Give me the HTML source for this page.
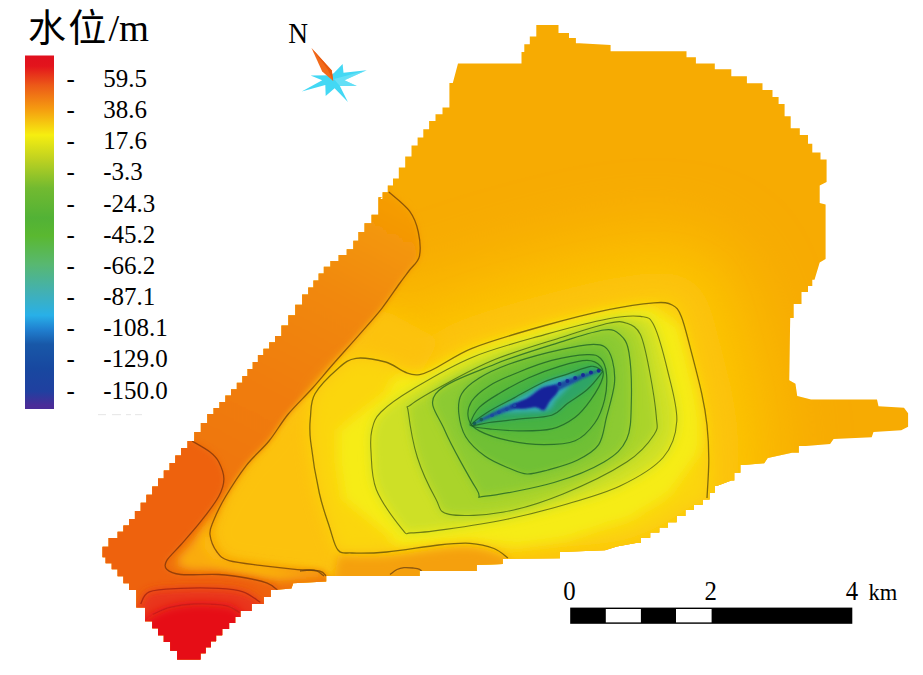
<!DOCTYPE html>
<html lang="zh"><head><meta charset="utf-8"><title>水位</title>
<style>html,body{margin:0;padding:0;background:#fff;}body{width:923px;height:675px;position:relative;overflow:hidden;}</style>
</head><body>
<svg width="923" height="675" viewBox="0 0 923 675" style="position:absolute;left:0;top:0">
<defs>
<clipPath id="clip"><path d="M380.0,199.0 L382.6,199.0 L382.6,192.2 L387.8,192.2 L387.8,185.4 L393.0,185.4 L393.0,178.6 L395.6,178.6 L398.8,178.6 L398.8,167.6 L405.2,167.6 L405.2,156.6 L411.5,156.6 L411.5,145.6 L414.7,145.6 L417.6,145.6 L417.6,137.4 L423.3,137.4 L423.3,129.2 L429.1,129.2 L429.1,121.0 L432.0,121.0 L435.5,121.0 L435.5,114.2 L442.5,114.2 L442.5,107.5 L446.0,107.5 L449.4,107.5 L449.4,83.0 L452.8,83.0 L458.0,63.5 L521.5,63.5 L521.5,52.0 L524.3,52.0 L524.3,44.2 L529.8,44.2 L529.8,36.4 L532.6,36.4 L536.3,36.4 L536.3,25.0 L540.0,25.0 L551.6,25.0 L558.5,25.0 L558.5,33.0 L565.5,33.0 L569.0,33.0 L569.0,38.1 L575.9,38.1 L575.9,43.3 L579.4,43.3 L610.6,45.0 L610.6,51.3 L686.5,51.3 L686.5,57.2 L695.9,57.2 L695.9,63.5 L705.3,63.5 L714.8,63.5 L714.8,69.3 L724.4,69.3 L731.3,69.3 L731.3,76.3 L738.2,76.3 L746.9,76.3 L746.9,83.2 L755.6,83.2 L762.5,83.2 L762.5,90.0 L769.4,90.0 L772.5,90.0 L772.5,97.0 L778.6,97.0 L778.6,104.0 L781.6,104.0 L784.6,104.0 L784.6,116.2 L790.7,116.2 L790.7,128.3 L793.7,128.3 L799.8,128.3 L799.8,135.0 L805.8,135.0 L808.0,135.0 L808.0,143.8 L812.3,143.8 L812.3,152.5 L814.5,152.5 L820.5,152.5 L820.5,159.5 L826.6,159.5 L826.6,182.0 L819.7,185.5 L819.7,203.0 L825.6,204.5 L825.6,259.0 L819.7,262.4 L814.5,279.8 L812.3,279.8 L812.3,285.9 L808.0,285.9 L808.0,291.9 L805.8,291.9 L801.5,291.9 L801.5,304.0 L797.2,304.0 L793.7,304.0 L793.7,317.9 L790.2,317.9 L789.2,380.3 L795.4,383.8 L797.2,395.9 L811.0,399.4 L877.0,399.6 L878.5,406.2 L904.0,407.8 L908.1,413.2 L908.1,426.8 L901.2,430.3 L873.5,432.0 L871.7,437.2 L833.6,439.0 L830.1,444.1 L805.8,445.9 L798.9,445.9 L798.9,452.8 L792.0,452.8 L767.7,458.0 L764.2,463.2 L743.4,465.0 L740.4,465.0 L740.4,472.8 L734.3,472.8 L734.3,480.6 L731.3,480.6 L717.4,485.8 L714.8,485.8 L714.8,492.7 L709.6,492.7 L709.6,499.6 L707.0,499.6 L702.7,499.6 L702.7,504.8 L694.0,504.8 L694.0,510.0 L689.7,510.0 L685.4,510.0 L685.4,516.1 L676.6,516.1 L676.6,522.2 L672.3,522.2 L668.0,522.2 L668.0,527.4 L659.3,527.4 L659.3,532.6 L655.0,532.6 L650.2,532.6 L650.2,537.8 L640.8,537.8 L640.8,543.0 L636.0,543.0 L616.9,546.4 L605.0,550.2 L560.0,552.0 L560.0,558.2 L502.8,558.9 L502.8,564.1 L476.8,565.1 L476.8,571.0 L419.6,571.0 L419.6,576.0 L326.2,576.0 L326.2,581.4 L293.2,583.2 L291.5,588.4 L274.2,590.1 L270.7,590.1 L270.7,597.0 L263.8,597.0 L263.8,604.0 L260.3,604.0 L251.7,604.0 L251.7,610.9 L243.0,610.9 L240.4,610.9 L240.4,617.0 L235.2,617.0 L235.2,623.0 L232.6,623.0 L229.1,623.0 L229.1,629.1 L222.2,629.1 L222.2,635.2 L218.7,635.2 L216.1,635.2 L216.1,641.2 L210.9,641.2 L210.9,647.3 L205.7,647.3 L205.7,653.3 L200.5,653.3 L200.5,659.4 L197.9,659.4 L180.6,659.4 L177.1,659.4 L177.1,650.8 L170.2,650.8 L170.2,642.1 L166.7,642.1 L163.8,642.1 L163.8,635.2 L158.0,635.2 L158.0,628.2 L152.2,628.2 L152.2,621.3 L149.3,621.3 L145.0,621.3 L145.0,607.4 L140.7,607.4 L136.3,607.4 L136.3,590.1 L132.0,590.1 L129.1,590.1 L129.1,583.2 L123.4,583.2 L123.4,576.2 L117.6,576.2 L117.6,569.3 L114.7,569.3 L111.7,569.3 L111.7,563.2 L105.6,563.2 L105.6,557.2 L102.5,557.2 L102.5,546.8 L108.6,546.8 L108.6,538.1 L114.7,538.1 L117.6,538.1 L117.6,531.7 L123.4,531.7 L123.4,525.4 L129.1,525.4 L129.1,519.0 L132.0,519.0 L134.9,519.0 L134.9,510.9 L140.7,510.9 L140.7,502.8 L146.4,502.8 L146.4,494.7 L149.3,494.7 L152.2,494.7 L152.2,486.6 L158.0,486.6 L158.0,478.6 L163.8,478.6 L163.8,470.5 L166.7,470.5 L169.6,470.5 L169.6,463.0 L175.3,463.0 L175.3,455.5 L181.1,455.5 L181.1,448.0 L184.0,448.0 L187.5,448.0 L187.5,441.0 L191.0,441.0 L194.2,441.0 L194.2,432.0 L200.8,432.0 L200.8,423.0 L207.2,423.0 L207.2,414.0 L210.5,414.0 L213.5,414.0 L213.5,407.9 L219.4,407.9 L219.4,401.9 L222.4,401.9 L225.3,401.9 L225.3,395.5 L231.0,395.5 L231.0,389.2 L236.8,389.2 L236.8,382.8 L239.7,382.8 L242.3,382.8 L242.3,375.9 L247.5,375.9 L247.5,368.9 L252.7,368.9 L252.7,362.0 L257.9,362.0 L257.9,355.0 L260.5,355.0 L263.4,355.0 L263.4,348.7 L269.2,348.7 L269.2,342.3 L275.0,342.3 L275.0,336.0 L277.9,336.0 L281.4,336.0 L281.4,325.6 L288.3,325.6 L288.3,315.2 L291.8,315.2 L295.2,315.2 L295.2,304.8 L302.1,304.8 L302.1,294.4 L305.6,294.4 L308.2,294.4 L308.2,287.5 L313.4,287.5 L313.4,280.5 L318.6,280.5 L318.6,273.6 L323.8,273.6 L323.8,266.7 L326.4,266.7 L330.4,266.7 L330.4,260.9 L338.6,260.9 L338.6,255.1 L346.7,255.1 L346.7,249.3 L350.7,249.3 L353.3,249.3 L353.3,240.7 L358.4,240.7 L358.4,232.0 L361.0,232.0 L364.5,232.0 L364.5,223.3 L371.5,223.3 L371.5,214.7 L375.0,214.7 L378.4,214.7 L378.4,197.3 L381.9,197.3Z"/></clipPath>
<filter id="b3" filterUnits="userSpaceOnUse" x="-100" y="-100" width="1123" height="875"><feGaussianBlur stdDeviation="3"/></filter>
<filter id="b5" filterUnits="userSpaceOnUse" x="-100" y="-100" width="1123" height="875"><feGaussianBlur stdDeviation="5"/></filter>
<filter id="b8" filterUnits="userSpaceOnUse" x="-100" y="-100" width="1123" height="875"><feGaussianBlur stdDeviation="8"/></filter>
<filter id="b12" filterUnits="userSpaceOnUse" x="-100" y="-100" width="1123" height="875"><feGaussianBlur stdDeviation="12"/></filter>
<filter id="b18" filterUnits="userSpaceOnUse" x="-100" y="-100" width="1123" height="875"><feGaussianBlur stdDeviation="18"/></filter>
<filter id="b2" filterUnits="userSpaceOnUse" x="-100" y="-100" width="1123" height="875"><feGaussianBlur stdDeviation="2"/></filter>
<filter id="b1" filterUnits="userSpaceOnUse" x="-100" y="-100" width="1123" height="875"><feGaussianBlur stdDeviation="1.2"/></filter>
<filter id="b30" filterUnits="userSpaceOnUse" x="-100" y="-100" width="1123" height="875"><feGaussianBlur stdDeviation="30"/></filter>
<filter id="b05" filterUnits="userSpaceOnUse" x="-100" y="-100" width="1123" height="875"><feGaussianBlur stdDeviation="0.6"/></filter>
<filter id="b7" filterUnits="userSpaceOnUse" x="-100" y="-100" width="1123" height="875"><feGaussianBlur stdDeviation="7"/></filter>
<filter id="b6" filterUnits="userSpaceOnUse" x="-100" y="-100" width="1123" height="875"><feGaussianBlur stdDeviation="6"/></filter>
<linearGradient id="lg" x1="0" y1="0" x2="0" y2="1">
<stop offset="0" stop-color="#e0101e"/>
<stop offset="0.03" stop-color="#e3141c"/>
<stop offset="0.085" stop-color="#ec5a18"/>
<stop offset="0.15" stop-color="#f59a10"/>
<stop offset="0.225" stop-color="#f6ee10"/>
<stop offset="0.292" stop-color="#c0d220"/>
<stop offset="0.375" stop-color="#72ba30"/>
<stop offset="0.46" stop-color="#52b236"/>
<stop offset="0.51" stop-color="#5ab830"/>
<stop offset="0.59" stop-color="#58b870"/>
<stop offset="0.675" stop-color="#40b0b8"/>
<stop offset="0.735" stop-color="#28b0e8"/>
<stop offset="0.775" stop-color="#2080d0"/>
<stop offset="0.817" stop-color="#1858a8"/>
<stop offset="0.885" stop-color="#1848a0"/>
<stop offset="0.95" stop-color="#2040a0"/>
<stop offset="0.99" stop-color="#4a2c98"/>
<stop offset="1" stop-color="#4a2c98"/>
</linearGradient>
<linearGradient id="band" gradientUnits="userSpaceOnUse" x1="400" y1="195" x2="215" y2="545"><stop offset="0" stop-color="#f59e06"/><stop offset="0.3" stop-color="#f18808"/><stop offset="0.6" stop-color="#f07c08"/><stop offset="1" stop-color="#ef7209"/></linearGradient>
</defs>
<g clip-path="url(#clip)">
<rect x="0" y="0" width="923" height="675" fill="#f7ab02"/>
<path d="M508.0,558.0 C505.7,556.4 500.3,551.0 494.0,548.5 C487.7,546.0 479.2,543.9 470.0,543.3 C460.8,542.7 452.6,543.5 438.7,545.0 C424.8,546.5 401.1,550.7 386.7,552.0 C372.2,553.3 360.1,553.3 352.0,553.0 C343.9,552.7 341.7,554.2 338.0,550.0 C334.3,545.8 332.8,537.2 329.7,527.7 C326.6,518.2 322.5,507.4 319.3,493.0 C316.1,478.6 312.1,453.8 310.6,441.0 C309.1,428.2 309.8,424.4 310.5,416.5 C311.2,408.6 310.4,401.8 315.0,393.8 C319.6,385.8 331.0,374.6 337.8,368.7 C344.6,362.8 348.0,359.4 356.0,358.3 C364.0,357.2 375.0,359.3 385.6,362.0 C396.2,364.7 405.3,376.9 419.7,374.6 C434.1,372.3 451.1,356.5 472.0,348.3 C492.9,340.1 522.0,331.9 544.8,325.5 C567.5,319.1 590.3,313.4 608.5,309.6 C626.7,305.8 643.4,303.6 654.0,302.8 C664.6,302.0 667.7,302.7 672.2,305.0 C676.8,307.3 678.3,309.2 681.3,316.4 C684.3,323.6 687.0,335.4 690.4,348.3 C693.8,361.2 699.0,381.0 701.8,393.8 C704.6,406.6 705.8,414.0 707.0,425.0 C708.2,436.0 708.8,447.5 708.8,459.7 C708.8,471.9 709.8,490.3 707.0,498.0 C704.2,505.7 700.3,501.2 692.0,506.0 C683.7,510.8 669.3,521.2 657.0,527.0 C644.7,532.8 633.8,537.7 618.0,541.0 C602.2,544.3 580.0,545.0 562.0,547.0 C544.0,549.0 518.7,552.0 510.0,553.0" fill="#fbbe06" filter="url(#b30)" stroke="#fbbe06" stroke-width="150" stroke-linejoin="round"/>
<path d="M508.0,558.0 C505.7,556.4 500.3,551.0 494.0,548.5 C487.7,546.0 479.2,543.9 470.0,543.3 C460.8,542.7 452.6,543.5 438.7,545.0 C424.8,546.5 401.1,550.7 386.7,552.0 C372.2,553.3 360.1,553.3 352.0,553.0 C343.9,552.7 341.7,554.2 338.0,550.0 C334.3,545.8 332.8,537.2 329.7,527.7 C326.6,518.2 322.5,507.4 319.3,493.0 C316.1,478.6 312.1,453.8 310.6,441.0 C309.1,428.2 309.8,424.4 310.5,416.5 C311.2,408.6 310.4,401.8 315.0,393.8 C319.6,385.8 331.0,374.6 337.8,368.7 C344.6,362.8 348.0,359.4 356.0,358.3 C364.0,357.2 375.0,359.3 385.6,362.0 C396.2,364.7 405.3,376.9 419.7,374.6 C434.1,372.3 451.1,356.5 472.0,348.3 C492.9,340.1 522.0,331.9 544.8,325.5 C567.5,319.1 590.3,313.4 608.5,309.6 C626.7,305.8 643.4,303.6 654.0,302.8 C664.6,302.0 667.7,302.7 672.2,305.0 C676.8,307.3 678.3,309.2 681.3,316.4 C684.3,323.6 687.0,335.4 690.4,348.3 C693.8,361.2 699.0,381.0 701.8,393.8 C704.6,406.6 705.8,414.0 707.0,425.0 C708.2,436.0 708.8,447.5 708.8,459.7 C708.8,471.9 709.8,490.3 707.0,498.0 C704.2,505.7 700.3,501.2 692.0,506.0 C683.7,510.8 669.3,521.2 657.0,527.0 C644.7,532.8 633.8,537.7 618.0,541.0 C602.2,544.3 580.0,545.0 562.0,547.0 C544.0,549.0 518.7,552.0 510.0,553.0" fill="#fcc608" filter="url(#b18)" stroke="#fcc608" stroke-width="60" stroke-linejoin="round"/>
<path d="M381.9,308.3 L361.1,332.6 L333.4,363.8 L312.6,388.0 L288.3,414.0 L269.0,441.0 L246.4,465.3 L225.6,496.5 L213.5,520.7 L210.0,534.6 L217.0,552.0 L229.0,560.6 L263.8,565.8 L295.0,569.3 L319.3,571.0 L326.0,576.0 L352.0,553.0 L338.0,550.0 L329.7,527.7 L319.3,493.0 L310.6,441.0 L310.5,416.5 L315.0,393.8 L337.8,368.7 L356.0,358.3 L385.6,362.0 L419.7,374.6 L440.0,340.0Z" fill="#fcc20a" filter="url(#b8)"/>
<path d="M388.8,192.0 C392.3,195.2 404.7,204.5 409.6,211.2 C414.5,217.9 416.7,224.5 418.3,232.0 C419.9,239.5 420.8,250.0 419.4,256.3 C417.9,262.6 413.0,265.4 409.6,270.0 C406.2,274.6 403.8,277.6 399.2,284.0 C394.6,290.4 388.2,300.2 381.9,308.3 C375.5,316.4 369.2,323.4 361.1,332.6 C353.0,341.9 341.5,354.6 333.4,363.8 C325.3,373.0 320.1,379.6 312.6,388.0 C305.1,396.4 295.6,405.2 288.3,414.0 C281.0,422.8 276.0,432.4 269.0,441.0 C262.0,449.6 253.6,456.1 246.4,465.3 C239.2,474.6 231.1,487.3 225.6,496.5 C220.1,505.7 216.1,514.4 213.5,520.7 C210.9,527.1 209.4,529.4 210.0,534.6 C210.6,539.8 213.8,547.7 217.0,552.0 C220.2,556.3 221.2,558.3 229.0,560.6 C236.8,562.9 252.8,564.3 263.8,565.8 C274.8,567.2 285.8,568.4 295.0,569.3 C304.2,570.2 314.1,569.9 319.3,571.0 C324.5,572.1 324.9,571.2 326.0,576.0 C327.1,580.8 365.3,579.3 326.0,600.0 C286.7,620.7 136.0,716.7 90.0,700.0 C44.0,683.3 15.0,591.7 50.0,500.0 C85.0,408.3 243.7,208.3 300.0,150.0 C356.3,91.7 373.3,150.0 388.0,150.0" fill="url(#band)" filter="url(#b3)"/>
<path d="M223.0,492.0 L213.5,520.7 L210.0,534.6 L217.0,552.0 L229.0,560.6 L263.8,565.8 L295.0,569.3 L324.0,572.0 L324.0,577.0 L277.0,581.0 L246.0,575.0 L218.0,571.0 L190.0,570.0 L178.0,566.0 L178.0,558.0 L190.0,545.0 L205.0,524.0 L219.0,500.0Z" fill="#faac0e" filter="url(#b5)"/>
<path d="M214.0,518.0 L210.0,534.6 L217.0,552.0 L229.0,560.6 L263.8,565.8 L300.0,570.0 L262.0,571.0 L232.0,566.0 L212.0,558.0 L203.0,545.0 L206.0,530.0Z" fill="#fcc010" filter="url(#b5)"/>
<path d="M192.0,441.0 C195.0,442.8 205.6,448.5 210.0,452.0 C214.4,455.5 216.4,457.3 218.7,461.8 C221.0,466.3 223.9,473.2 223.9,479.0 C223.9,484.8 222.4,489.6 218.7,496.5 C214.9,503.4 207.8,512.6 201.4,520.7 C195.1,528.8 186.4,538.4 180.6,545.0 C174.8,551.6 169.0,556.6 166.7,560.6 C164.4,564.6 164.4,567.0 166.7,569.3 C169.0,571.6 171.9,573.6 180.6,574.5 C189.3,575.4 207.7,573.9 218.7,574.5 C229.7,575.1 238.3,576.5 246.4,578.0 C254.5,579.5 262.0,581.2 267.2,583.2 C272.4,585.2 276.0,580.5 277.6,590.0 C279.2,599.5 298.3,621.7 277.0,640.0 C255.7,658.3 187.8,713.3 150.0,700.0 C112.2,686.7 50.0,606.7 50.0,560.0 C50.0,513.3 133.3,443.3 150.0,420.0" fill="#ee6210" filter="url(#b3)"/>
<path d="M140.7,604.0 C142.1,602.0 142.7,594.4 149.3,591.8 C156.0,589.2 169.0,589.0 180.6,588.4 C192.2,587.8 208.3,587.8 218.7,588.4 C229.1,589.0 236.1,589.5 243.0,591.8 C249.9,594.1 250.8,594.2 260.3,602.2 C269.8,610.2 311.7,623.7 300.0,640.0 C288.3,656.3 223.3,700.0 190.0,700.0 C156.7,700.0 115.0,650.0 100.0,640.0" fill="#e9361a" filter="url(#b5)"/>
<path d="M152.8,614.4 C155.7,613.2 163.1,609.1 170.0,607.4 C176.9,605.7 185.1,604.3 194.4,604.0 C203.7,603.7 218.1,604.3 225.6,605.7 C233.1,607.1 230.4,603.6 239.5,612.6 C248.6,621.6 288.2,645.4 280.0,660.0 C271.8,674.6 218.3,701.7 190.0,700.0 C161.7,698.3 123.3,658.3 110.0,650.0" fill="#e60a16" filter="url(#b5)"/>
<path d="M508.0,558.0 C505.7,556.4 500.3,551.0 494.0,548.5 C487.7,546.0 479.2,543.9 470.0,543.3 C460.8,542.7 452.6,543.5 438.7,545.0 C424.8,546.5 401.1,550.7 386.7,552.0 C372.2,553.3 360.1,553.3 352.0,553.0 C343.9,552.7 341.7,554.2 338.0,550.0 C334.3,545.8 332.8,537.2 329.7,527.7 C326.6,518.2 322.5,507.4 319.3,493.0 C316.1,478.6 312.1,453.8 310.6,441.0 C309.1,428.2 309.8,424.4 310.5,416.5 C311.2,408.6 310.4,401.8 315.0,393.8 C319.6,385.8 331.0,374.6 337.8,368.7 C344.6,362.8 348.0,359.4 356.0,358.3 C364.0,357.2 375.0,359.3 385.6,362.0 C396.2,364.7 405.3,376.9 419.7,374.6 C434.1,372.3 451.1,356.5 472.0,348.3 C492.9,340.1 522.0,331.9 544.8,325.5 C567.5,319.1 590.3,313.4 608.5,309.6 C626.7,305.8 643.4,303.6 654.0,302.8 C664.6,302.0 667.7,302.7 672.2,305.0 C676.8,307.3 678.3,309.2 681.3,316.4 C684.3,323.6 687.0,335.4 690.4,348.3 C693.8,361.2 699.0,381.0 701.8,393.8 C704.6,406.6 705.8,414.0 707.0,425.0 C708.2,436.0 708.8,447.5 708.8,459.7 C708.8,471.9 709.8,490.3 707.0,498.0 C704.2,505.7 700.3,501.2 692.0,506.0 C683.7,510.8 669.3,521.2 657.0,527.0 C644.7,532.8 633.8,537.7 618.0,541.0 C602.2,544.3 580.0,545.0 562.0,547.0 C544.0,549.0 518.7,552.0 510.0,553.0" fill="#fbd60e" filter="url(#b8)"/>
<path d="M337.9,430.4 L387.0,392.2 L389.7,386.1 L392.2,379.9 L397.7,376.1 L402.2,375.4 L406.3,375.8 L410.3,376.3 L414.4,376.7 L416.9,376.6 L419.4,376.7 L420.4,376.2 L425.8,373.4 L431.2,370.7 L436.6,367.9 L442.0,365.2 L447.4,362.4 L452.8,359.7 L458.2,356.9 L463.6,354.2 L469.0,351.4 L476.2,348.6 L482.0,346.8 L487.8,345.0 L493.6,343.2 L499.5,341.3 L506.8,339.0 L512.6,337.2 L518.4,335.4 L524.2,333.6 L530.0,331.8 L535.9,329.9 L543.2,327.6 L549.2,326.0 L555.3,324.5 L562.9,322.6 L569.0,321.1 L575.0,319.6 L581.1,318.1 L587.1,316.6 L594.8,314.7 L600.8,313.2 L606.9,311.6 L614.5,310.4 L620.5,309.6 L626.5,308.8 L632.6,308.0 L638.6,307.2 L644.7,307.3 L650.8,307.4 L678.6,325.7 L680.4,331.8 L682.1,337.9 L684.3,345.6 L686.0,351.7 L688.0,359.3 L689.6,365.4 L691.0,371.4 L692.4,377.3 L693.8,383.3 L695.7,391.0 L697.3,398.7 L698.3,405.0 L699.4,411.2 L700.4,417.5 L700.6,422.0 L701.0,431.5 L700.9,437.6 L700.7,443.7 L699.3,449.9 L697.1,456.1 L691.7,462.8 L670.1,493.6 L664.9,497.1 L658.6,501.2 L653.4,504.6 L642.3,510.8 L637.0,514.4 L631.6,517.9 L625.6,520.0 L618.3,522.4 L604.4,526.2 L598.5,528.3 L592.5,530.3 L586.5,532.4 L579.1,534.6 L573.1,536.7 L567.2,538.8 L561.2,539.7 L555.1,540.6 L549.1,541.4 L543.1,542.3 L535.4,543.3 L529.4,544.1 L523.3,545.0 L517.3,545.8 L496.5,543.2 L495.4,543.4 L491.0,542.9 L485.0,542.0 L478.9,541.1 L472.9,540.2 L470.1,540.0 L465.6,540.4 L459.3,540.9 L453.0,541.4 L446.8,541.8 L438.7,542.3 L434.2,542.9 L426.4,543.9 L420.2,544.7 L412.4,545.7 L404.3,545.9 L402.0,545.1 L398.0,544.6 L395.7,543.8 L391.4,540.4 L388.4,534.6 L381.6,529.2 L343.6,498.7 L342.7,492.5 L341.1,482.9 L340.0,475.5 L339.2,469.4 L338.3,463.2 L337.5,457.0 L337.9,450.4 L338.1,442.7Z" fill="#f6ec18" filter="url(#b6)"/>
<path d="M338.0,556.0 C346.1,556.0 369.9,557.2 386.7,556.0 C403.5,554.8 424.8,550.5 438.7,549.0 C452.6,547.5 460.8,546.7 470.0,547.3 C479.2,547.9 487.7,550.0 494.0,552.5 C500.3,555.0 505.7,554.1 508.0,562.0 C510.3,569.9 537.7,593.7 508.0,600.0 C478.3,606.3 359.7,600.0 330.0,600.0" fill="#f5a00c" filter="url(#b5)"/>
<path d="M371.9,430.0 C373.6,423.4 374.2,418.8 381.0,412.0 C387.8,405.2 397.7,398.1 412.9,389.0 C428.1,379.9 450.0,366.5 472.0,357.4 C494.0,348.3 522.0,341.1 544.8,334.6 C567.5,328.2 592.6,321.7 608.5,318.7 C624.4,315.7 632.8,315.3 640.4,316.4 C648.0,317.5 649.5,316.4 654.0,325.5 C658.5,334.6 663.9,355.1 667.7,371.0 C671.5,386.9 677.6,406.6 676.8,421.0 C676.0,435.4 672.6,446.7 663.1,457.5 C653.6,468.3 636.6,478.1 620.0,486.0 C603.4,493.9 582.2,499.5 563.5,505.0 C544.8,510.5 527.6,514.9 508.0,519.0 C488.4,523.1 461.8,527.1 445.6,529.4 C429.4,531.7 418.2,532.9 411.0,532.9 C403.8,532.9 408.1,536.6 402.3,529.4 C396.5,522.2 381.5,502.5 376.3,489.5 C371.1,476.5 371.7,461.3 371.0,451.4 C370.3,441.5 370.2,436.6 371.9,430.0Z" fill="#cee026" filter="url(#b6)"/>
<path d="M408.3,412.0 C407.2,403.2 405.3,409.2 410.6,405.0 C415.9,400.8 426.2,394.6 440.2,387.0 C454.2,379.4 474.3,368.0 494.8,359.6 C515.3,351.2 544.0,343.0 563.0,336.9 C582.0,330.8 597.9,325.5 608.5,323.2 C619.1,320.9 621.4,321.3 626.7,323.2 C632.0,325.1 636.6,326.6 640.4,334.6 C644.2,342.6 646.9,357.4 649.5,371.0 C652.1,384.6 655.5,405.9 656.3,416.5 C657.0,427.1 658.9,427.1 654.0,434.7 C649.1,442.3 641.9,452.1 626.7,462.0 C611.5,471.9 583.5,485.6 563.0,493.9 C542.5,502.2 522.9,508.6 503.9,512.0 C484.9,515.4 460.7,516.7 449.3,514.4 C437.9,512.1 440.9,507.9 435.6,498.4 C430.3,488.9 421.9,471.9 417.4,457.5 C412.8,443.1 409.4,420.8 408.3,412.0Z" fill="#aad42c" filter="url(#b5)"/>
<path d="M435.6,393.8 C444.0,382.8 473.6,372.9 494.8,364.2 C516.0,355.5 544.8,347.1 563.0,341.4 C581.2,335.7 594.5,331.1 604.0,330.0 C613.5,328.9 615.8,330.8 620.0,334.6 C624.2,338.4 627.1,341.4 629.0,352.8 C630.9,364.2 631.7,388.5 631.3,402.9 C630.9,417.3 631.2,429.4 626.7,439.3 C622.2,449.2 616.1,454.8 604.0,462.0 C591.9,469.2 573.7,476.8 554.0,482.5 C534.3,488.2 498.6,495.0 485.7,496.1 C472.8,497.2 483.4,500.3 476.6,489.3 C469.8,478.3 451.5,446.1 444.7,430.2 C437.9,414.3 427.2,404.8 435.6,393.8Z" fill="#8cca30" filter="url(#b5)"/>
<path d="M458.8,413.3 C458.1,406.1 458.3,399.6 461.7,393.7 C465.1,387.8 471.5,382.9 479.3,378.0 C487.1,373.1 497.3,368.5 508.7,364.3 C520.1,360.1 534.8,355.9 547.8,352.6 C560.8,349.4 577.5,345.8 587.0,344.8 C596.5,343.8 600.4,344.1 604.6,346.7 C608.8,349.3 610.8,354.2 612.4,360.4 C614.0,366.6 615.4,374.4 614.4,383.9 C613.4,393.4 609.1,407.1 606.5,417.2 C603.9,427.3 603.6,437.4 598.7,444.6 C593.8,451.8 585.7,456.0 577.2,460.2 C568.7,464.4 556.2,467.7 547.8,470.0 C539.4,472.3 533.5,474.3 527.0,474.0 C520.5,473.7 515.7,470.9 508.7,468.0 C501.7,465.1 492.4,461.5 485.2,456.3 C478.0,451.1 470.1,443.9 465.7,436.7 C461.3,429.5 459.5,420.5 458.8,413.3Z" fill="#70c034" filter="url(#b3)"/>
<path d="M468.6,419.1 C467.3,414.2 468.1,407.0 471.5,401.5 C474.9,396.0 481.3,390.8 489.1,385.9 C496.9,381.0 508.1,376.4 518.5,372.2 C528.9,367.9 540.3,363.3 551.7,360.4 C563.1,357.5 578.8,354.9 587.0,354.6 C595.2,354.3 597.5,355.2 600.7,358.5 C604.0,361.8 605.9,367.2 606.5,374.1 C607.1,381.0 606.6,391.5 604.6,399.6 C602.6,407.8 599.7,416.1 594.8,423.0 C589.9,429.9 583.7,437.1 575.2,440.7 C566.7,444.3 555.0,444.6 543.9,444.6 C532.8,444.6 519.5,443.0 508.7,440.7 C497.9,438.4 486.0,434.5 479.3,430.9 C472.6,427.3 469.9,424.0 468.6,419.1Z" fill="#5cb938" filter="url(#b3)"/>
<path d="M470.5,423.0 C471.5,419.8 474.6,412.3 479.3,407.4 C484.0,402.5 490.7,398.6 498.9,393.7 C507.1,388.8 518.2,382.6 528.3,378.0 C538.4,373.4 549.8,369.2 559.6,366.3 C569.4,363.4 580.1,360.4 587.0,360.4 C593.9,360.4 598.1,363.4 600.7,366.3 C603.3,369.2 604.2,372.4 602.6,378.0 C601.0,383.6 595.5,393.1 590.9,399.6 C586.3,406.1 581.7,412.3 575.2,417.2 C568.7,422.1 561.2,426.6 551.7,428.9 C542.2,431.2 528.9,430.9 518.5,430.9 C508.1,430.9 496.6,429.6 489.1,428.9 C481.6,428.2 476.6,427.5 473.5,426.5 C470.4,425.5 469.5,426.2 470.5,423.0Z" fill="#46b242" filter="url(#b2)"/>
<path d="M471.5,425.0 C471.5,423.1 481.9,415.9 489.1,411.3 C496.3,406.7 505.5,402.5 514.6,397.6 C523.7,392.7 535.1,385.9 543.9,382.0 C552.7,378.1 559.6,376.7 567.4,374.1 C575.2,371.5 585.2,366.9 590.9,366.3 C596.6,365.7 600.0,369.2 601.6,370.5 C603.2,371.8 603.1,370.9 600.7,374.1 C598.3,377.3 592.5,384.9 587.0,389.8 C581.5,394.7 573.3,399.3 567.4,403.5 C561.5,407.7 559.9,412.6 551.7,415.2 C543.6,417.8 528.9,417.9 518.5,419.1 C508.1,420.3 496.9,421.5 489.1,422.5 C481.3,423.5 471.5,426.9 471.5,425.0Z" fill="#2fa466" filter="url(#b2)"/>
<path d="M496.0,412.0 C493.3,410.7 502.7,407.2 508.0,404.0 C513.3,400.8 521.8,396.6 528.0,393.0 C534.2,389.4 538.3,385.3 545.0,382.5 C551.7,379.7 562.8,376.9 568.0,376.0 C573.2,375.1 576.3,374.7 576.0,377.0 C575.7,379.3 569.3,386.2 566.0,390.0 C562.7,393.8 559.0,396.7 556.0,400.0 C553.0,403.3 553.3,408.0 548.0,410.0 C542.7,412.0 532.7,411.7 524.0,412.0 C515.3,412.3 498.7,413.3 496.0,412.0Z" fill="#36acb4" filter="url(#b2)"/>
<path d="M472.0,424.5 C472.0,423.8 485.3,416.4 492.0,413.0 C498.7,409.6 505.7,406.3 512.0,404.0 C518.3,401.7 522.7,402.3 530.0,399.0 C537.3,395.7 548.0,387.8 556.0,384.0 C564.0,380.2 570.5,378.3 578.0,376.0 C585.5,373.7 600.7,369.3 601.0,370.0 C601.3,370.7 587.5,376.3 580.0,380.0 C572.5,383.7 562.7,388.3 556.0,392.0 C549.3,395.7 546.8,399.2 540.0,402.0 C533.2,404.8 523.0,406.5 515.0,409.0 C507.0,411.5 499.2,414.4 492.0,417.0 C484.8,419.6 472.0,425.2 472.0,424.5Z" fill="#1d4fa0" filter="url(#b1)"/>
<path d="M512.0,405.5 C514.3,403.8 523.3,400.6 528.3,397.6 C533.3,394.7 537.4,389.8 542.0,387.8 C546.6,385.8 553.1,384.8 555.7,385.4 C558.3,386.0 558.6,389.0 557.6,391.7 C556.6,394.4 552.1,398.4 549.8,401.5 C547.5,404.6 546.2,409.3 543.9,410.3 C541.6,411.3 539.4,407.6 536.1,407.4 C532.8,407.1 527.9,408.7 524.3,408.8 C520.7,408.9 516.6,408.6 514.6,408.0 C512.6,407.4 509.7,407.2 512.0,405.5Z" fill="#18229a" filter="url(#b1)"/>
<circle cx="559.6" cy="383.9" r="2" fill="#162c96" filter="url(#b05)"/>
<circle cx="567.4" cy="381" r="2" fill="#162c96" filter="url(#b05)"/>
<circle cx="575.2" cy="378" r="2" fill="#162c96" filter="url(#b05)"/>
<circle cx="583" cy="375.1" r="2" fill="#162c96" filter="url(#b05)"/>
<circle cx="590.9" cy="372.4" r="2" fill="#162c96" filter="url(#b05)"/>
<circle cx="598.7" cy="370.8" r="2" fill="#162c96" filter="url(#b05)"/>
<circle cx="514.6" cy="405.4" r="1.8" fill="#1a48a0" filter="url(#b05)"/>
<circle cx="506.7" cy="409.3" r="1.8" fill="#1a48a0" filter="url(#b05)"/>
<circle cx="498.9" cy="412.3" r="1.8" fill="#1a48a0" filter="url(#b05)"/>
<circle cx="492.1" cy="415.2" r="1.8" fill="#1a48a0" filter="url(#b05)"/>
<circle cx="481.3" cy="419.6" r="1.8" fill="#175e58" filter="url(#b05)"/>
<circle cx="474.5" cy="423.4" r="1.8" fill="#175e58" filter="url(#b05)"/>
<path d="M192.0,441.0 C195.0,442.8 205.6,448.5 210.0,452.0 C214.4,455.5 216.4,457.3 218.7,461.8 C221.0,466.3 223.9,473.2 223.9,479.0 C223.9,484.8 222.4,489.6 218.7,496.5 C214.9,503.4 207.8,512.6 201.4,520.7 C195.1,528.8 186.4,538.4 180.6,545.0 C174.8,551.6 169.0,556.6 166.7,560.6 C164.4,564.6 164.4,567.0 166.7,569.3 C169.0,571.6 171.9,573.6 180.6,574.5 C189.3,575.4 207.7,573.9 218.7,574.5 C229.7,575.1 238.3,576.5 246.4,578.0 C254.5,579.5 262.0,581.2 267.2,583.2 C272.4,585.2 275.9,588.9 277.6,590.0" fill="none" stroke="#7a3208" stroke-width="1.3" opacity="0.75"/>
<path d="M388.8,192.0 C392.3,195.2 404.7,204.5 409.6,211.2 C414.5,217.9 416.7,224.5 418.3,232.0 C419.9,239.5 420.8,250.0 419.4,256.3 C417.9,262.6 413.0,265.4 409.6,270.0 C406.2,274.6 403.8,277.6 399.2,284.0 C394.6,290.4 388.2,300.2 381.9,308.3 C375.5,316.4 369.2,323.4 361.1,332.6 C353.0,341.9 341.5,354.6 333.4,363.8 C325.3,373.0 320.1,379.6 312.6,388.0 C305.1,396.4 295.6,405.2 288.3,414.0 C281.0,422.8 276.0,432.4 269.0,441.0 C262.0,449.6 253.6,456.1 246.4,465.3 C239.2,474.6 231.1,487.3 225.6,496.5 C220.1,505.7 216.1,514.4 213.5,520.7 C210.9,527.1 209.4,529.4 210.0,534.6 C210.6,539.8 213.8,547.7 217.0,552.0 C220.2,556.3 221.2,558.3 229.0,560.6 C236.8,562.9 252.8,564.3 263.8,565.8 C274.8,567.2 285.8,568.4 295.0,569.3 C304.2,570.2 314.1,569.9 319.3,571.0 C324.5,572.1 324.9,575.2 326.0,576.0" fill="none" stroke="#6e3e08" stroke-width="1.3" opacity="0.75"/>
<path d="M508.0,558.0 C505.7,556.4 500.3,551.0 494.0,548.5 C487.7,546.0 479.2,543.9 470.0,543.3 C460.8,542.7 452.6,543.5 438.7,545.0 C424.8,546.5 401.1,550.7 386.7,552.0 C372.2,553.3 360.1,553.3 352.0,553.0 C343.9,552.7 341.7,554.2 338.0,550.0 C334.3,545.8 332.8,537.2 329.7,527.7 C326.6,518.2 322.5,507.4 319.3,493.0 C316.1,478.6 312.1,453.8 310.6,441.0 C309.1,428.2 309.8,424.4 310.5,416.5 C311.2,408.6 310.4,401.8 315.0,393.8 C319.6,385.8 331.0,374.6 337.8,368.7 C344.6,362.8 348.0,359.4 356.0,358.3 C364.0,357.2 375.0,359.3 385.6,362.0 C396.2,364.7 405.3,376.9 419.7,374.6 C434.1,372.3 451.1,356.5 472.0,348.3 C492.9,340.1 522.0,331.9 544.8,325.5 C567.5,319.1 590.3,313.4 608.5,309.6 C626.7,305.8 643.4,303.6 654.0,302.8 C664.6,302.0 667.7,302.7 672.2,305.0 C676.8,307.3 678.3,309.2 681.3,316.4 C684.3,323.6 687.0,335.4 690.4,348.3 C693.8,361.2 699.0,381.0 701.8,393.8 C704.6,406.6 705.8,414.0 707.0,425.0 C708.2,436.0 708.8,447.5 708.8,459.7 C708.8,471.9 707.3,491.6 707.0,498.0" fill="none" stroke="#5a4a08" stroke-width="1.3" opacity="0.75"/>
<path d="M371.9,430.0 C373.6,423.4 374.2,418.8 381.0,412.0 C387.8,405.2 397.7,398.1 412.9,389.0 C428.1,379.9 450.0,366.5 472.0,357.4 C494.0,348.3 522.0,341.1 544.8,334.6 C567.5,328.2 592.6,321.7 608.5,318.7 C624.4,315.7 632.8,315.3 640.4,316.4 C648.0,317.5 649.5,316.4 654.0,325.5 C658.5,334.6 663.9,355.1 667.7,371.0 C671.5,386.9 677.6,406.6 676.8,421.0 C676.0,435.4 672.6,446.7 663.1,457.5 C653.6,468.3 636.6,478.1 620.0,486.0 C603.4,493.9 582.2,499.5 563.5,505.0 C544.8,510.5 527.6,514.9 508.0,519.0 C488.4,523.1 461.8,527.1 445.6,529.4 C429.4,531.7 418.2,532.9 411.0,532.9 C403.8,532.9 408.1,536.6 402.3,529.4 C396.5,522.2 381.5,502.5 376.3,489.5 C371.1,476.5 371.7,461.3 371.0,451.4 C370.3,441.5 370.2,436.6 371.9,430.0Z" fill="none" stroke="#4a5a10" stroke-width="1.1" opacity="0.75"/>
<path d="M408.3,412.0 C407.2,403.2 405.3,409.2 410.6,405.0 C415.9,400.8 426.2,394.6 440.2,387.0 C454.2,379.4 474.3,368.0 494.8,359.6 C515.3,351.2 544.0,343.0 563.0,336.9 C582.0,330.8 597.9,325.5 608.5,323.2 C619.1,320.9 621.4,321.3 626.7,323.2 C632.0,325.1 636.6,326.6 640.4,334.6 C644.2,342.6 646.9,357.4 649.5,371.0 C652.1,384.6 655.5,405.9 656.3,416.5 C657.0,427.1 658.9,427.1 654.0,434.7 C649.1,442.3 641.9,452.1 626.7,462.0 C611.5,471.9 583.5,485.6 563.0,493.9 C542.5,502.2 522.9,508.6 503.9,512.0 C484.9,515.4 460.7,516.7 449.3,514.4 C437.9,512.1 440.9,507.9 435.6,498.4 C430.3,488.9 421.9,471.9 417.4,457.5 C412.8,443.1 409.4,420.8 408.3,412.0Z" fill="none" stroke="#3a5e14" stroke-width="1.1" opacity="0.75"/>
<path d="M435.6,393.8 C444.0,382.8 473.6,372.9 494.8,364.2 C516.0,355.5 544.8,347.1 563.0,341.4 C581.2,335.7 594.5,331.1 604.0,330.0 C613.5,328.9 615.8,330.8 620.0,334.6 C624.2,338.4 627.1,341.4 629.0,352.8 C630.9,364.2 631.7,388.5 631.3,402.9 C630.9,417.3 631.2,429.4 626.7,439.3 C622.2,449.2 616.1,454.8 604.0,462.0 C591.9,469.2 573.7,476.8 554.0,482.5 C534.3,488.2 498.6,495.0 485.7,496.1 C472.8,497.2 483.4,500.3 476.6,489.3 C469.8,478.3 451.5,446.1 444.7,430.2 C437.9,414.3 427.2,404.8 435.6,393.8Z" fill="none" stroke="#1a5c26" stroke-width="1.2" opacity="0.75"/>
<path d="M458.8,413.3 C458.1,406.1 458.3,399.6 461.7,393.7 C465.1,387.8 471.5,382.9 479.3,378.0 C487.1,373.1 497.3,368.5 508.7,364.3 C520.1,360.1 534.8,355.9 547.8,352.6 C560.8,349.4 577.5,345.8 587.0,344.8 C596.5,343.8 600.4,344.1 604.6,346.7 C608.8,349.3 610.8,354.2 612.4,360.4 C614.0,366.6 615.4,374.4 614.4,383.9 C613.4,393.4 609.1,407.1 606.5,417.2 C603.9,427.3 603.6,437.4 598.7,444.6 C593.8,451.8 585.7,456.0 577.2,460.2 C568.7,464.4 556.2,467.7 547.8,470.0 C539.4,472.3 533.5,474.3 527.0,474.0 C520.5,473.7 515.7,470.9 508.7,468.0 C501.7,465.1 492.4,461.5 485.2,456.3 C478.0,451.1 470.1,443.9 465.7,436.7 C461.3,429.5 459.5,420.5 458.8,413.3Z" fill="none" stroke="#1a5c26" stroke-width="1.2" opacity="0.75"/>
<path d="M468.6,419.1 C467.3,414.2 468.1,407.0 471.5,401.5 C474.9,396.0 481.3,390.8 489.1,385.9 C496.9,381.0 508.1,376.4 518.5,372.2 C528.9,367.9 540.3,363.3 551.7,360.4 C563.1,357.5 578.8,354.9 587.0,354.6 C595.2,354.3 597.5,355.2 600.7,358.5 C604.0,361.8 605.9,367.2 606.5,374.1 C607.1,381.0 606.6,391.5 604.6,399.6 C602.6,407.8 599.7,416.1 594.8,423.0 C589.9,429.9 583.7,437.1 575.2,440.7 C566.7,444.3 555.0,444.6 543.9,444.6 C532.8,444.6 519.5,443.0 508.7,440.7 C497.9,438.4 486.0,434.5 479.3,430.9 C472.6,427.3 469.9,424.0 468.6,419.1Z" fill="none" stroke="#1a5c26" stroke-width="1.2" opacity="0.75"/>
<path d="M470.5,423.0 C471.5,419.8 474.6,412.3 479.3,407.4 C484.0,402.5 490.7,398.6 498.9,393.7 C507.1,388.8 518.2,382.6 528.3,378.0 C538.4,373.4 549.8,369.2 559.6,366.3 C569.4,363.4 580.1,360.4 587.0,360.4 C593.9,360.4 598.1,363.4 600.7,366.3 C603.3,369.2 604.2,372.4 602.6,378.0 C601.0,383.6 595.5,393.1 590.9,399.6 C586.3,406.1 581.7,412.3 575.2,417.2 C568.7,422.1 561.2,426.6 551.7,428.9 C542.2,431.2 528.9,430.9 518.5,430.9 C508.1,430.9 496.6,429.6 489.1,428.9 C481.6,428.2 476.6,427.5 473.5,426.5 C470.4,425.5 469.5,426.2 470.5,423.0Z" fill="none" stroke="#1a5c26" stroke-width="1.2" opacity="0.75"/>
<path d="M471.5,425.0 C471.5,423.1 481.9,415.9 489.1,411.3 C496.3,406.7 505.5,402.5 514.6,397.6 C523.7,392.7 535.1,385.9 543.9,382.0 C552.7,378.1 559.6,376.7 567.4,374.1 C575.2,371.5 585.2,366.9 590.9,366.3 C596.6,365.7 600.0,369.2 601.6,370.5 C603.2,371.8 603.1,370.9 600.7,374.1 C598.3,377.3 592.5,384.9 587.0,389.8 C581.5,394.7 573.3,399.3 567.4,403.5 C561.5,407.7 559.9,412.6 551.7,415.2 C543.6,417.8 528.9,417.9 518.5,419.1 C508.1,420.3 496.9,421.5 489.1,422.5 C481.3,423.5 471.5,426.9 471.5,425.0Z" fill="none" stroke="#1a5c26" stroke-width="1.2" opacity="0.75"/>
<path d="M300.0,571.0 C301.7,570.8 307.2,570.0 310.0,570.0 C312.8,570.0 314.7,570.0 317.0,571.0 C319.3,572.0 322.8,575.2 324.0,576.0" fill="none" stroke="#6a4010" stroke-width="1.3" opacity="0.75"/>
<path d="M390.0,574.5 C391.2,573.7 394.7,570.6 397.0,569.5 C399.3,568.4 401.3,567.9 404.0,567.6 C406.7,567.4 410.4,567.7 413.0,568.0 C415.6,568.3 417.9,568.5 419.6,569.3 C421.3,570.1 422.4,572.4 423.0,573.0" fill="none" stroke="#6a4010" stroke-width="1.3" opacity="0.75"/>
<path d="M140.7,604.0 C142.1,602.0 142.7,594.4 149.3,591.8 C156.0,589.2 169.0,589.0 180.6,588.4 C192.2,587.8 208.3,587.8 218.7,588.4 C229.1,589.0 236.1,589.5 243.0,591.8 C249.9,594.1 257.4,600.5 260.3,602.2" fill="none" stroke="#8a1410" stroke-width="1.3" opacity="0.6"/>
<path d="M152.8,614.4 C155.7,613.2 163.1,609.1 170.0,607.4 C176.9,605.7 185.1,604.3 194.4,604.0 C203.7,603.7 218.1,604.3 225.6,605.7 C233.1,607.1 237.2,611.5 239.5,612.6" fill="none" stroke="#a01818" stroke-width="1.3" opacity="0.4"/>
</g>
<rect x="25" y="55.5" width="29" height="353.5" fill="url(#lg)"/>
<g fill="#e9e9e9"><rect x="98" y="414" width="8" height="1.2"/><rect x="112" y="414" width="9" height="1.2"/><rect x="126" y="414" width="5" height="1.2"/><rect x="135" y="414" width="7" height="1.2"/></g>
<polygon points="342.6,63.9 343.5,72.8 366.6,70.2 344.5,80.3 356.8,86.1 339.9,86 347.9,102.1 334.6,88.3 325.7,95.9 325.3,85 301.7,91.5 322.2,80.3 310.6,75.5 331,75.2 334.2,72.8" fill="#43d8f4"/>
<polygon points="334,79 366.6,70.2 344.5,80.3 356.8,86.1 339.9,86" fill="#7fe6f8" opacity="0.55"/>
<polygon points="311.5,48 331.8,70.5 333.2,81 322.2,71.5" fill="#f26a1a"/>
<polygon points="311.5,48 331.8,70.5 333.2,81 327.5,69" fill="#e8590f"/>
<rect x="570.2" y="607.6" width="282.1" height="16.2" fill="#000"/>
<rect x="605.8" y="609" width="35.1" height="13.4" fill="#fff"/>
<rect x="676" y="609" width="35.6" height="13.4" fill="#fff"/>
<text x="28" y="40.5" font-size="38" fill="#000"><tspan font-family="Liberation Sans, Noto Sans CJK SC, sans-serif" letter-spacing="2.2">水位</tspan><tspan font-family="Liberation Serif, serif" font-size="38.5">/m</tspan></text>
<text x="66.5" y="86.7" font-size="25" font-family="Liberation Serif, serif">-</text>
<text x="103.3" y="86.7" font-size="25" font-family="Liberation Serif, serif">59.5</text>
<text x="66.5" y="117.9" font-size="25" font-family="Liberation Serif, serif">-</text>
<text x="103.3" y="117.9" font-size="25" font-family="Liberation Serif, serif">38.6</text>
<text x="66.5" y="149.1" font-size="25" font-family="Liberation Serif, serif">-</text>
<text x="103.3" y="149.1" font-size="25" font-family="Liberation Serif, serif">17.6</text>
<text x="66.5" y="180.3" font-size="25" font-family="Liberation Serif, serif">-</text>
<text x="103.3" y="180.3" font-size="25" font-family="Liberation Serif, serif">-3.3</text>
<text x="66.5" y="211.5" font-size="25" font-family="Liberation Serif, serif">-</text>
<text x="103.3" y="211.5" font-size="25" font-family="Liberation Serif, serif">-24.3</text>
<text x="66.5" y="242.7" font-size="25" font-family="Liberation Serif, serif">-</text>
<text x="103.3" y="242.7" font-size="25" font-family="Liberation Serif, serif">-45.2</text>
<text x="66.5" y="273.8" font-size="25" font-family="Liberation Serif, serif">-</text>
<text x="103.3" y="273.8" font-size="25" font-family="Liberation Serif, serif">-66.2</text>
<text x="66.5" y="305.0" font-size="25" font-family="Liberation Serif, serif">-</text>
<text x="103.3" y="305.0" font-size="25" font-family="Liberation Serif, serif">-87.1</text>
<text x="66.5" y="336.2" font-size="25" font-family="Liberation Serif, serif">-</text>
<text x="103.3" y="336.2" font-size="25" font-family="Liberation Serif, serif">-108.1</text>
<text x="66.5" y="367.4" font-size="25" font-family="Liberation Serif, serif">-</text>
<text x="103.3" y="367.4" font-size="25" font-family="Liberation Serif, serif">-129.0</text>
<text x="66.5" y="398.6" font-size="25" font-family="Liberation Serif, serif">-</text>
<text x="103.3" y="398.6" font-size="25" font-family="Liberation Serif, serif">-150.0</text>
<text x="288.2" y="42.6" font-size="30" textLength="19.8" lengthAdjust="spacingAndGlyphs" font-family="Liberation Serif, serif">N</text>
<text x="569.5" y="600.3" font-size="27" text-anchor="middle" textLength="12.4" lengthAdjust="spacingAndGlyphs" font-family="Liberation Serif, serif">0</text>
<text x="710.6" y="600.3" font-size="27" text-anchor="middle" textLength="12.4" lengthAdjust="spacingAndGlyphs" font-family="Liberation Serif, serif">2</text>
<text x="852" y="600.3" font-size="27" text-anchor="middle" textLength="12.4" lengthAdjust="spacingAndGlyphs" font-family="Liberation Serif, serif">4</text>
<text x="868.6" y="600" font-size="22.5" font-family="Liberation Serif, serif">km</text>
</svg>
</body></html>
